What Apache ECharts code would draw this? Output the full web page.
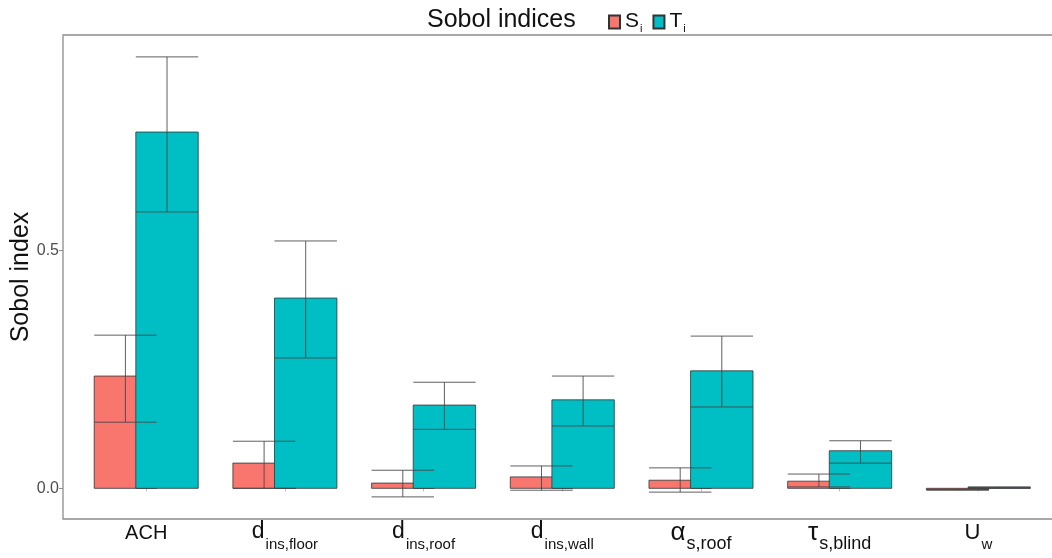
<!DOCTYPE html>
<html>
<head>
<meta charset="utf-8">
<script src="https://cdn.jsdelivr.net/npm/echarts@6/dist/echarts.min.js"></script>
<style>
  html, body { margin: 0; padding: 0; background: #fff; }
  #chart { width: 1052px; height: 558px; }
</style>
</head>
<body>
<div id="chart"></div>
<script>
// Parameter names: main symbol and subscript
const categories = ['ACH', 'd', 'd', 'd', 'α', 'τ', 'U'];
const subscripts = ['', 'ins,floor', 'ins,roof', 'ins,wall', 's,roof', 's,blind', 'w'];

// First-order indices (S_i) with lower / upper confidence bounds
const siValues = [0.236, 0.053, 0.011, 0.024, 0.017, 0.015, -0.003];
const siLow    = [0.139, 0.000, -0.018, -0.004, -0.008, 0.003, -0.004];
const siHigh   = [0.322, 0.099, 0.038, 0.047, 0.043, 0.030, -0.002];

// Total-order indices (T_i) with lower / upper confidence bounds
const tiValues = [0.749, 0.400, 0.175, 0.186, 0.247, 0.079, 0.002];
const tiLow    = [0.581, 0.274, 0.124, 0.131, 0.171, 0.053, 0.000];
const tiHigh   = [0.907, 0.520, 0.223, 0.236, 0.320, 0.100, 0.003];

const yTicks = [0.0, 0.5];

const SI_COLOR = '#F8766D';
const TI_COLOR = '#00BFC4';
const DODGE = 0.15;      // half-distance between the two bars of a group
const BAR_W = 0.45;      // bar width in category units

const positions = categories.map((_, i) => i + 1);

function barData(vals, lows, highs) {
  return vals.map((v, i) => [i + 1, v, lows[i], highs[i]]);
}

function barRenderer(offset, color) {
  return function (params, api) {
    const x = api.value(0) + offset;
    const v = api.value(1);
    const p0 = api.coord([x - BAR_W / 2, 0]);
    const p1 = api.coord([x + BAR_W / 2, v]);
    const top = Math.min(p0[1], p1[1]);
    const h = Math.max(Math.abs(p0[1] - p1[1]), 0.5);
    return {
      type: 'rect',
      shape: { x: p0[0], y: top, width: p1[0] - p0[0], height: h },
      style: { fill: color, stroke: '#333333', lineWidth: 0.8 }
    };
  };
}

function errorRenderer(offset) {
  return function (params, api) {
    const x = api.value(0) + offset;
    const lo = api.coord([x, api.value(2)]);
    const hi = api.coord([x, api.value(3)]);
    const left = api.coord([x - BAR_W / 2, 0])[0];
    const right = api.coord([x + BAR_W / 2, 0])[0];
    const lineStyle = { stroke: '#444444', lineWidth: 1, opacity: 0.85 };
    return {
      type: 'group',
      children: [
        { type: 'line', shape: { x1: lo[0], y1: lo[1], x2: hi[0], y2: hi[1] }, style: lineStyle },
        { type: 'line', shape: { x1: left, y1: hi[1], x2: right, y2: hi[1] }, style: lineStyle },
        { type: 'line', shape: { x1: left, y1: lo[1], x2: right, y2: lo[1] }, style: lineStyle }
      ]
    };
  };
}

function categoryLabel(value) {
  const i = Math.round(value) - 1;
  const main = categories[i];
  const sub = subscripts[i];
  if (!sub) return '{n|' + main + '}';
  if (main === 'α' || main === 'τ') return '{g|' + main + '}{gs|' + sub + '}';
  if (main === 'U') return '{u|' + main + '}{s|' + sub + '}';
  return '{d|' + main + '}{s|' + sub + '}';
}

const FONT = 'Liberation Sans, Arial, sans-serif';

const chart = echarts.init(document.getElementById('chart'), null, { renderer: 'canvas' });
chart.setOption({
  animation: false,
  backgroundColor: '#ffffff',
  textStyle: { fontFamily: FONT },
  title: {
    text: 'Sobol indices',
    left: 422,
    top: 3,
    textStyle: { fontSize: 25, fontWeight: 'normal', color: '#111111', fontFamily: FONT }
  },
  legend: {
    left: 603,
    top: 6,
    icon: 'rect',
    itemWidth: 11,
    itemHeight: 13,
    itemGap: 10,
    data: ['Si', 'Ti'],
    formatter: function (name) {
      return '{m|' + name.charAt(0) + '}{s|' + name.charAt(1) + '}';
    },
    textStyle: {
      rich: {
        m: { fontSize: 21, color: '#111', fontFamily: FONT, lineHeight: 22, verticalAlign: 'top' },
        s: { fontSize: 11, color: '#111', fontFamily: FONT, lineHeight: 11, padding: [12, 0, 0, 1], verticalAlign: 'top' }
      }
    }
  },
  grid: {
    left: 63,
    top: 35,
    width: 998.6,
    bottom: 39,
    outerBoundsMode: 'none',
    containLabel: false,
    show: true,
    borderColor: '#8c8c8c',
    borderWidth: 1.3,
    backgroundColor: '#ffffff'
  },
  xAxis: {
    type: 'value',
    min: 0.4,
    max: 7.6,
    splitLine: { show: false },
    axisLine: { show: false },
    axisTick: { show: true, customValues: positions, length: 3, lineStyle: { color: '#bbbbbb' } },
    axisLabel: {
      customValues: positions,
      margin: 1,
      formatter: categoryLabel,
      rich: {
        n: { fontSize: 20, color: '#111', fontFamily: FONT, lineHeight: 24, verticalAlign: 'top', padding: [3, 0, 0, 0] },
        d: { fontSize: 23, color: '#111', fontFamily: FONT, lineHeight: 24, verticalAlign: 'top' },
        u: { fontSize: 22, color: '#111', fontFamily: FONT, lineHeight: 24, verticalAlign: 'top', padding: [2, 0, 0, 0] },
        s: { fontSize: 15, color: '#111', fontFamily: FONT, lineHeight: 15, verticalAlign: 'top', padding: [17, 0, 0, 1] },
        g: { fontSize: 26, color: '#111', fontFamily: FONT, lineHeight: 24, verticalAlign: 'top' },
        gs: { fontSize: 18, color: '#111', fontFamily: FONT, lineHeight: 18, verticalAlign: 'top', padding: [15, 0, 0, 1] }
      }
    }
  },
  yAxis: {
    type: 'value',
    min: -0.0645,
    max: 0.953,
    name: 'Sobol index',
    nameLocation: 'middle',
    nameGap: 29,
    nameMoveOverlap: false,
    nameTextStyle: { fontSize: 25, color: '#111', fontFamily: FONT },
    splitLine: { show: false },
    axisLine: { show: false },
    axisTick: { show: true, customValues: yTicks, length: 4, lineStyle: { color: '#8c8c8c' } },
    axisLabel: {
      customValues: yTicks,
      margin: 4,
      fontSize: 16,
      color: '#4d4d4d',
      formatter: v => v.toFixed(1)
    }
  },
  series: [
    {
      name: 'Si',
      type: 'custom',
      itemStyle: { color: SI_COLOR, borderColor: '#333', borderWidth: 1 },
      renderItem: barRenderer(-DODGE, SI_COLOR),
      encode: { x: 0, y: 1 },
      data: barData(siValues, siLow, siHigh),
      z: 2
    },
    {
      name: 'Ti',
      type: 'custom',
      itemStyle: { color: TI_COLOR, borderColor: '#333', borderWidth: 1 },
      renderItem: barRenderer(DODGE, TI_COLOR),
      encode: { x: 0, y: 1 },
      data: barData(tiValues, tiLow, tiHigh),
      z: 3
    },
    {
      name: 'Si error',
      type: 'custom',
      renderItem: errorRenderer(-DODGE),
      encode: { x: 0, y: [2, 3] },
      data: barData(siValues, siLow, siHigh),
      z: 4
    },
    {
      name: 'Ti error',
      type: 'custom',
      renderItem: errorRenderer(DODGE),
      encode: { x: 0, y: [2, 3] },
      data: barData(tiValues, tiLow, tiHigh),
      z: 5
    }
  ]
});
</script>
</body>
</html>
